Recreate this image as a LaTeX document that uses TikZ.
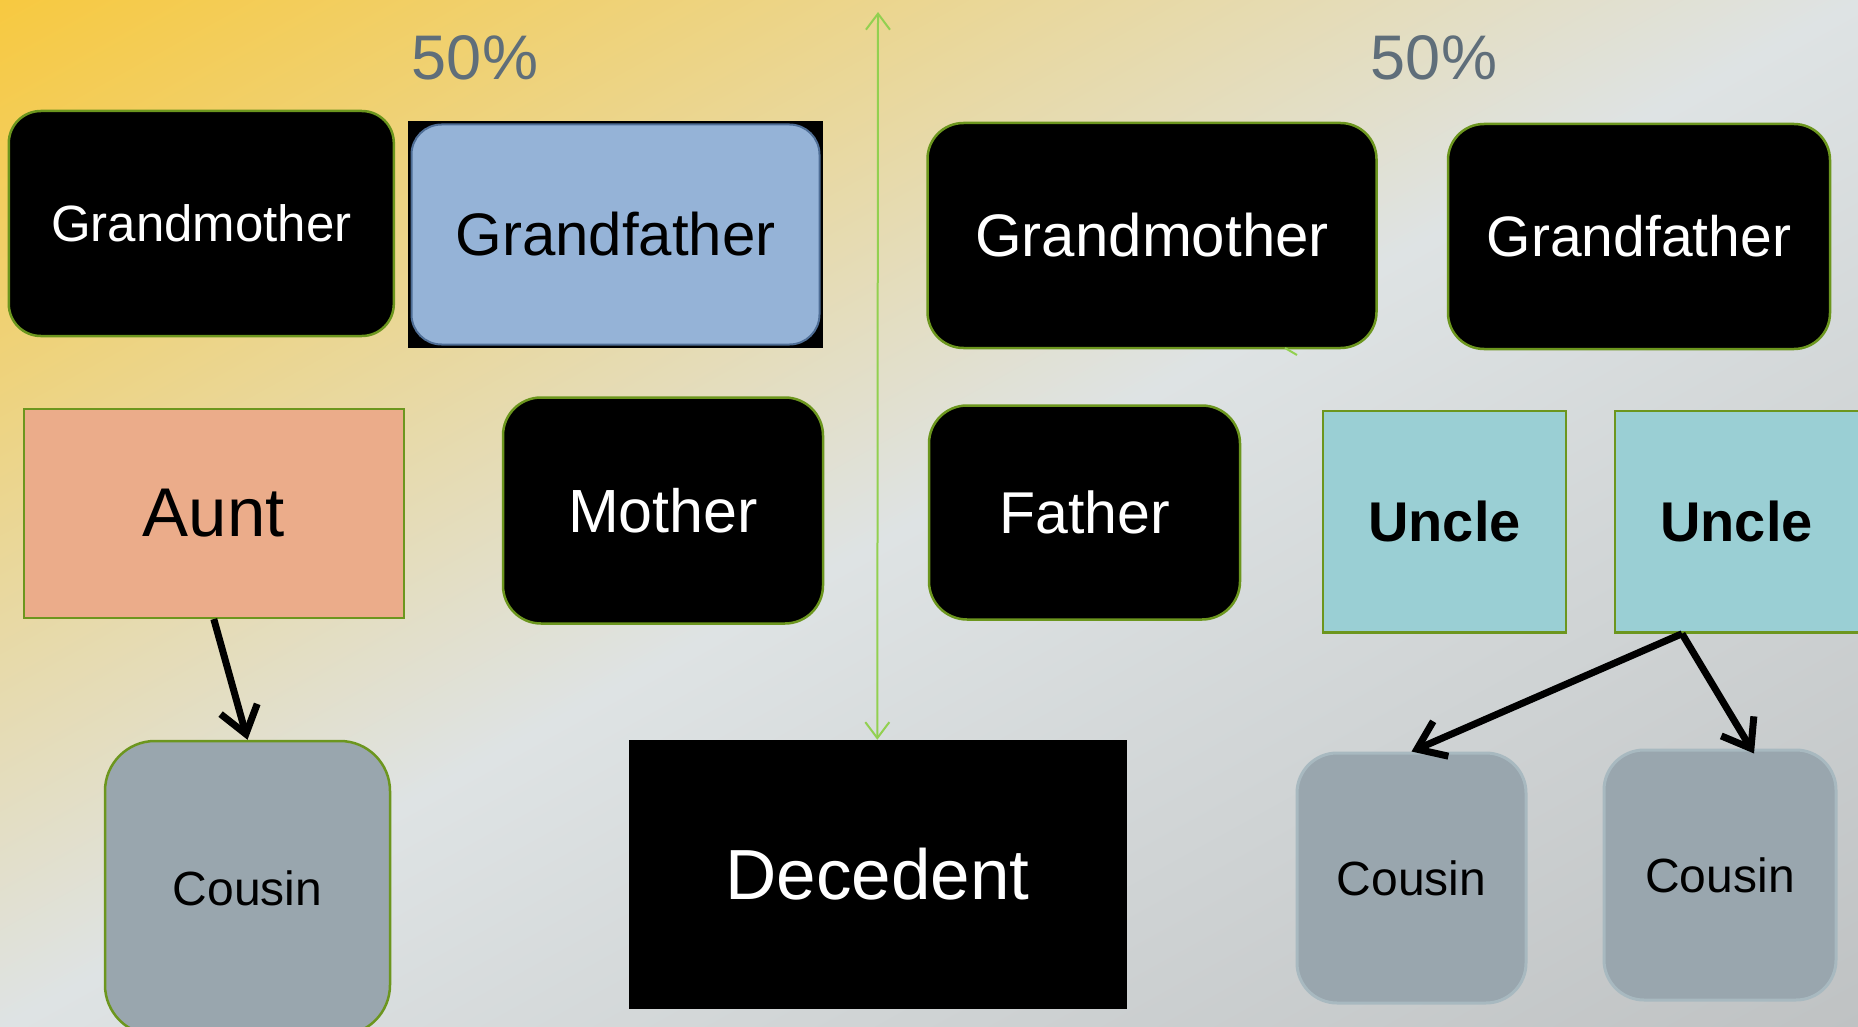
\documentclass[tikz,border=0pt]{standalone}
\usepackage{fontspec}
\setmainfont{Liberation Sans}
\usetikzlibrary{arrows.meta,calc}

\definecolor{leafgreen}{RGB}{108,150,30}
\definecolor{limegreen}{RGB}{146,208,80}
\definecolor{pctgray}{HTML}{5F6E7A}
\definecolor{skyblue}{HTML}{95B3D7}
\definecolor{skyedge}{HTML}{4F6E96}
\definecolor{salmonfill}{HTML}{EBAC8A}
\definecolor{unclefill}{HTML}{9ACFD4}
\definecolor{cousinfill}{HTML}{99A6AE}
\definecolor{cousinedge}{HTML}{A8B9C0}

% diagonal wash: warm yellow in the top-left corner, light grey across the
% middle diagonal, a darker grey towards the bottom-right corner
\pgfdeclarefunctionalshading{diagwash}{\pgfpoint{0bp}{0bp}}{\pgfpoint{100bp}{100bp}}{}{
  25 sub 50 div 1 exch sub
  exch 25 sub 50 div
  add 2 div
  dup 0 lt {pop 0} if
  dup 1 gt {pop 1} if
  dup 0.5 lt
  {
    2 mul
    dup dup
    -0.098 mul 0.969 add
    3 1 roll
    0.102 mul 0.788 add
    exch
    0.643 mul 0.251 add
  }
  {
    2 mul 1 sub
    dup dup
    -0.122 mul 0.871 add
    3 1 roll
    -0.129 mul 0.890 add
    exch
    -0.129 mul 0.894 add
  } ifelse
}

\newcommand{\fsz}[1]{\fontsize{#1pt}{#1pt}\selectfont}

\tikzset{
  darkbox/.style={draw=leafgreen, line width=2.5pt, fill=black, text=white, inner sep=0pt},
  salmonbox/.style={draw=leafgreen, line width=2.5pt, fill=salmonfill, text=black, inner sep=0pt},
  unclebox/.style={draw=leafgreen, line width=2.5pt, fill=unclefill, text=black, inner sep=0pt, font=\fsz{56}\bfseries},
  cousinbox/.style={draw=leafgreen, line width=2.5pt, fill=cousinfill, text=black, inner sep=0pt, font=\fsz{48}},
  softcousin/.style={cousinbox, draw=cousinedge, line width=3pt},
  bluebox/.style={draw=skyedge, line width=2pt, fill=skyblue, text=black, inner sep=0pt},
  pct/.style={text=pctgray, font=\fsz{63}, inner sep=0pt},
  kinarrow/.style={line width=7pt, -{Straight Barb[length=26pt, width=38pt]}},
  splitarrow/.style={draw=limegreen, line width=2pt,
    {Straight Barb[length=16pt, width=24pt]}-{Straight Barb[length=16pt, width=24pt]}},
}

\begin{document}
\begin{tikzpicture}[x=1pt, y=-1pt]
  \useasboundingbox (0,0) rectangle (1858,1027);
  \clip (0,0) rectangle (1858,1027);

  % background wash
  \shade[shading=diagwash] (0,0) rectangle (1858,1027);

  % share labels
  \node[pct] (pctL) at (475,58) {50\%};
  \node[pct] (pctR) at (1434,58) {50\%};

  % grandparents
  \node[darkbox, rounded corners=32pt, minimum width=385pt, minimum height=225pt,
        font=\fsz{51}] (gmL) at (201.3,223.5) {Grandmother};
  \node[fill=black, inner sep=0pt, minimum width=415pt, minimum height=227pt] (gfL) at (615.5,234.5) {};
  \node[bluebox, rounded corners=30pt, minimum width=408pt, minimum height=220pt,
        font=\fsz{60}] (gfLin) at (gfL.center) {Grandfather};
  \node[darkbox, rounded corners=36pt, minimum width=449pt, minimum height=225pt,
        font=\fsz{60}] (gmR) at (1152,235.5) {Grandmother};
  \node[darkbox, rounded corners=36pt, minimum width=382pt, minimum height=225pt,
        font=\fsz{57}] (gfR) at (1639,236.5) {Grandfather};

  % parents and their siblings
  \node[salmonbox, minimum width=380pt, minimum height=209pt, font=\fsz{69}] (aunt) at (213.8,513.3) {Aunt};
  \node[darkbox, rounded corners=38pt, minimum width=320pt, minimum height=226pt,
        font=\fsz{61}] (mother) at (663,510.5) {Mother};
  \node[darkbox, rounded corners=38pt, minimum width=311pt, minimum height=214pt,
        font=\fsz{59}] (father) at (1084.5,512.5) {Father};
  \node[unclebox, minimum width=243pt, minimum height=221.5pt] (uncleA) at (1444.5,521.75) {Uncle};
  \node[unclebox, minimum width=250pt, minimum height=221.5pt] (uncleB) at (1740,521.75) {\hspace*{-7pt}Uncle};

  % bottom row
  \node[cousinbox, rounded corners=50pt, minimum width=285pt, minimum height=294pt] (cousinA) at (247.5,888) {Cousin};
  \node[fill=black, draw=black, inner sep=0pt, text=white, minimum width=497pt, minimum height=268pt,
        font=\fsz{71}] (dec) at (877.3,874) {Decedent};
  \node[softcousin, rounded corners=40pt, minimum width=229pt, minimum height=250pt] (cousinB) at (1411.5,878) {Cousin};
  \node[softcousin, rounded corners=40pt, minimum width=232pt, minimum height=250pt] (cousinC) at (1720,875) {Cousin};

  % estate split line
  \coordinate (splittop) at (878,12);
  \draw[splitarrow] (splittop) -- (dec.north);

  % stray stroke under the right grandmother
  \coordinate (tickA) at (1285,348);
  \coordinate (tickB) at (1297,355);
  \draw[limegreen, line width=2pt] (tickA) -- (tickB);

  % descent arrows
  \draw[kinarrow] (aunt.south) -- (cousinA.north);
  \coordinate (uncleFoot) at ($(uncleB.south)+(-58,0)$);
  \draw[kinarrow] (uncleFoot) -- (cousinB.north);
  \draw[kinarrow] (uncleFoot) -- ($(cousinC.north)+(34,5)$);
\end{tikzpicture}
\end{document}
